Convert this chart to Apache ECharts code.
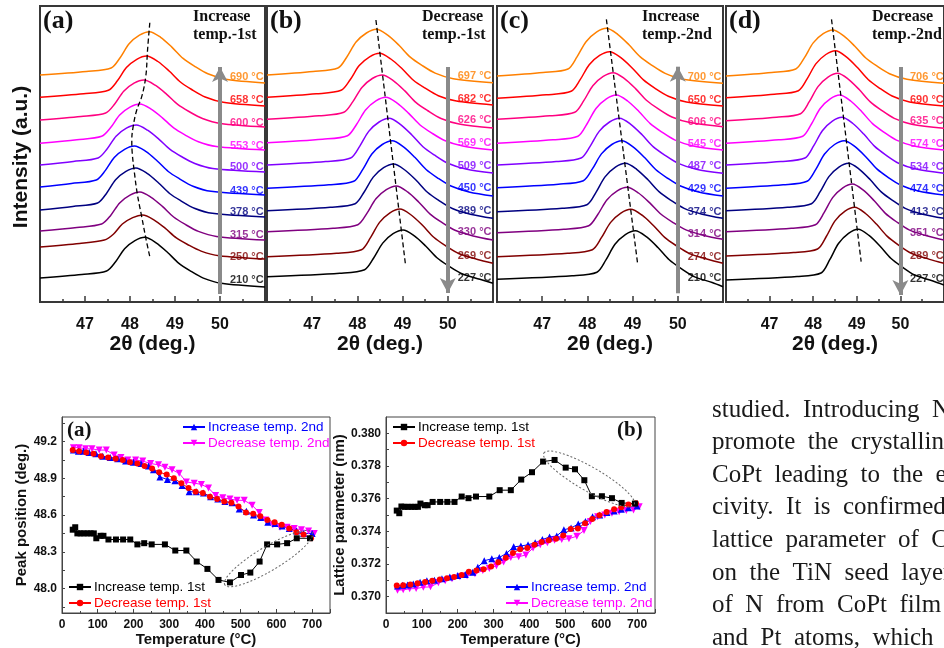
<!DOCTYPE html>
<html>
<head>
<meta charset="utf-8">
<script src="https://cdn.jsdelivr.net/npm/echarts@6/dist/echarts.min.js"></script>
<style>
  html, body { margin: 0; padding: 0; background: #ffffff; }
  #chart { width: 944px; height: 648px; }
</style>
</head>
<body>
<div id="chart"></div>
<script>
// ---------------- In-situ XRD scans: CoPt(111) peak, 2θ (deg.) vs intensity (a.u., offset) ----------------
const scanColors = ['#ff8000', '#ff0000', '#ff0080', '#ff00ff', '#8000ff', '#0000ff', '#000080', '#800080', '#800000', '#000000'];

const tempsA = ['690', '658', '600', '553', '500', '439', '378', '315', '250', '210'];
const tempsB = ['697', '682', '626', '569', '509', '450', '389', '330', '269', '227'];
const tempsC = ['700', '650', '606', '545', '487', '429', '374', '314', '274', '210'];
const tempsD = ['706', '690', '635', '574', '534', '474', '413', '351', '289', '227'];

// vertical level of each temperature tag (same a.u. scale as the scans)
const tagLevelsA = [224.7, 202, 179.3, 156, 134.7, 111.3, 90, 67, 44.7, 22];
const tagLevelsB = [226, 203.3, 182, 158.7, 136.3, 113.7, 91.3, 69.7, 46, 23.7];
const tagLevelsC = [224.7, 202, 180.3, 158, 136, 112.7, 90.3, 68, 45.3, 23.7];
const tagLevelsD = [224.7, 202, 181.3, 158, 135.3, 112.7, 90.3, 68.7, 46, 22.7];

const scansA = [
  [[46,227],[47.03,230.5],[47.58,234],[47.78,244.3],[47.98,258.2],[48.21,266.8],[48.43,270.3],[48.68,264.7],[48.93,254.9],[49.18,243.6],[49.43,235.9],[49.73,228.2],[50.13,222.8],[51,219]],
  [[46,204.7],[46.97,208.2],[47.52,211.7],[47.72,221.2],[47.92,234.4],[48.15,242.7],[48.37,246],[48.62,240.5],[48.87,231],[49.12,220],[49.37,212.5],[49.67,205],[50.07,199.8],[51,196]],
  [[46,182],[46.91,185.5],[47.46,189],[47.66,198],[47.86,210.8],[48.09,218.8],[48.31,222],[48.56,216.8],[48.81,207.9],[49.06,197.6],[49.31,190.5],[49.61,183.5],[50.01,178.5],[51,175]],
  [[46,158.7],[46.82,162.2],[47.37,165.7],[47.57,174.4],[47.77,187],[48.00,194.9],[48.22,198],[48.47,192.9],[48.72,184.2],[48.97,174.1],[49.22,167.2],[49.52,160.3],[49.92,155.5],[51,152]],
  [[46,137],[46.74,140.5],[47.29,144],[47.49,153],[47.69,165.8],[47.92,173.8],[48.14,177],[48.39,171.8],[48.64,162.9],[48.89,152.6],[49.14,145.5],[49.44,138.5],[49.84,133.5],[51,130]],
  [[46,115],[46.70,118.5],[47.25,122],[47.45,131.4],[47.65,144.5],[47.88,152.7],[48.10,156],[48.35,150.6],[48.60,141.3],[48.85,130.5],[49.10,123.2],[49.40,115.8],[49.80,110.7],[51,107]],
  [[46,92],[46.73,95.5],[47.28,99],[47.48,108.8],[47.68,122.2],[47.91,130.6],[48.13,134],[48.38,128.6],[48.63,119.3],[48.88,108.5],[49.13,101.2],[49.43,93.8],[49.83,88.7],[51,85]],
  [[46,71],[46.82,74.5],[47.37,78],[47.57,86.6],[47.77,99.1],[48.00,106.9],[48.22,110],[48.47,104.7],[48.72,95.6],[48.97,85],[49.22,77.8],[49.52,70.6],[49.92,65.6],[51,62]],
  [[46,55],[46.88,58.5],[47.43,62],[47.63,67.8],[47.83,78],[48.06,84.4],[48.28,87],[48.53,82.2],[48.78,73.8],[49.03,64.1],[49.28,57.5],[49.58,50.9],[49.98,46.3],[51,43]],
  [[46,24],[46.93,27.5],[47.48,31],[47.68,40.3],[47.88,53.3],[48.11,61.4],[48.33,64.7],[48.58,59.2],[48.83,49.8],[49.08,38.9],[49.33,31.4],[49.63,23.9],[50.03,18.7],[51,15]]
];

const scansB = [
  [[46,227],[47.02,230.5],[47.57,234],[47.77,245.3],[47.97,259.9],[48.20,269],[48.42,272.7],[48.67,266.8],[48.92,256.7],[49.17,244.9],[49.42,236.9],[49.72,228.9],[50.12,223.3],[51,219.3]],
  [[46,204.7],[47.09,208.2],[47.64,211.7],[47.84,222.3],[48.04,236.4],[48.27,245.2],[48.49,248.7],[48.74,243],[48.99,233.2],[49.24,221.8],[49.49,214.1],[49.79,206.3],[50.19,200.9],[51,197]],
  [[46,182.7],[47.15,186.2],[47.70,189.7],[47.90,200.4],[48.10,214.6],[48.33,223.5],[48.55,227],[48.80,221.2],[49.05,211.1],[49.30,199.4],[49.55,191.5],[49.85,183.5],[50.25,178],[51,174]],
  [[46,159.3],[47.23,162.8],[47.78,166.3],[47.98,177.5],[48.18,192],[48.41,201.1],[48.63,204.7],[48.88,198.9],[49.13,188.9],[49.38,177.3],[49.63,169.4],[49.93,161.5],[50.33,156],[51,152]],
  [[46,137],[47.30,140.5],[47.85,144],[48.05,155.7],[48.25,170.6],[48.48,180],[48.70,183.7],[48.95,177.7],[49.20,167.3],[49.45,155.3],[49.70,147.1],[50.00,138.8],[50.40,133.1],[51,129]],
  [[46,113.7],[47.37,117.2],[47.92,120.7],[48.12,132.7],[48.32,148],[48.55,157.5],[48.77,161.3],[49.02,155.2],[49.27,144.7],[49.52,132.5],[49.77,124.2],[50.07,116],[50.47,110.1],[51,106]],
  [[46,91.3],[47.40,94.8],[47.95,98.3],[48.15,110],[48.35,124.9],[48.58,134.3],[48.80,138],[49.05,132],[49.30,121.7],[49.55,109.8],[49.80,101.6],[50.10,93.5],[50.50,87.8],[51,83.7]],
  [[46,70.3],[47.46,73.8],[48.01,77.3],[48.21,88.6],[48.41,103.2],[48.64,112.3],[48.86,116],[49.11,110.1],[49.36,99.8],[49.61,87.9],[49.86,79.8],[50.16,71.7],[50.56,66.1],[51,62]],
  [[46,45.3],[47.54,48.8],[48.09,52.3],[48.29,64.4],[48.49,79.6],[48.72,89.2],[48.94,93],[49.19,87],[49.44,76.7],[49.69,64.8],[49.94,56.6],[50.24,48.5],[50.64,42.8],[51,38.7]],
  [[46,25.3],[47.61,28.8],[48.16,32.3],[48.36,44],[48.56,58.9],[48.79,68.3],[49.01,72],[49.26,66.1],[49.51,56],[49.76,44.3],[50.01,36.3],[50.31,28.3],[50.71,22.7],[51,18.7]]
];

const scansC = [
  [[46,226],[47.02,229.5],[47.57,233],[47.77,245.1],[47.97,260.3],[48.20,269.9],[48.42,273.7],[48.67,267.7],[48.92,257.2],[49.17,245.1],[49.42,236.9],[49.72,228.6],[50.12,222.8],[51,218.7]],
  [[46,203.7],[47.09,207.2],[47.64,210.7],[47.84,222.3],[48.04,237.3],[48.27,246.6],[48.49,250.3],[48.74,244.3],[48.99,234],[49.24,222.1],[49.49,213.9],[49.79,205.8],[50.19,200.1],[51,196]],
  [[46,182.7],[47.17,186.2],[47.72,189.7],[47.92,201.3],[48.12,216.3],[48.35,225.6],[48.57,229.3],[48.82,223.4],[49.07,213.1],[49.32,201.2],[49.57,193.1],[49.87,185],[50.27,179.4],[51,175.3]],
  [[46,158.7],[47.24,162.2],[47.79,165.7],[47.99,178],[48.19,193.5],[48.42,203.1],[48.64,207],[48.89,201],[49.14,190.5],[49.39,178.4],[49.64,170.2],[49.94,161.9],[50.34,156.1],[51,152]],
  [[46,137],[47.31,140.5],[47.86,144],[48.06,155.7],[48.26,170.6],[48.49,180],[48.71,183.7],[48.96,177.7],[49.21,167.2],[49.46,155.1],[49.71,146.9],[50.01,138.6],[50.41,132.8],[51,128.7]],
  [[46,114.3],[47.36,117.8],[47.91,121.3],[48.11,133.1],[48.31,148.1],[48.54,157.5],[48.76,161.3],[49.01,155.2],[49.26,144.7],[49.51,132.5],[49.76,124.2],[50.06,116],[50.46,110.1],[51,106]],
  [[46,90.3],[47.44,93.8],[47.99,97.3],[48.19,109.7],[48.39,125.1],[48.62,134.8],[48.84,138.7],[49.09,132.7],[49.34,122.2],[49.59,110.1],[49.84,101.9],[50.14,93.6],[50.54,87.8],[51,83.7]],
  [[46,69.3],[47.48,72.8],[48.03,76.3],[48.23,87.5],[48.43,102],[48.66,111.1],[48.88,114.7],[49.13,109],[49.38,99.1],[49.63,87.7],[49.88,79.9],[50.18,72.1],[50.58,66.6],[51,62.7]],
  [[46,45.3],[47.56,48.8],[48.11,52.3],[48.31,64.3],[48.51,79.4],[48.74,88.9],[48.96,92.7],[49.21,86.8],[49.46,76.5],[49.71,64.6],[49.96,56.5],[50.26,48.4],[50.66,42.8],[51,38.7]],
  [[46,22.7],[47.66,26.2],[48.21,29.7],[48.41,42.1],[48.61,57.7],[48.84,67.4],[49.06,71.3],[49.31,65.1],[49.56,54.5],[49.81,42.2],[50.06,33.8],[50.36,25.4],[50.76,19.5],[51,15.3]]
];

const scansD = [
  [[46,226],[47.05,229.5],[47.60,233],[47.80,244.4],[48.00,259.1],[48.23,268.3],[48.45,272],[48.70,266.1],[48.95,256],[49.20,244.3],[49.45,236.3],[49.75,228.3],[50.15,222.7],[51,218.7]],
  [[46,204.3],[47.11,207.8],[47.66,211.3],[47.86,223.1],[48.06,238.1],[48.29,247.5],[48.51,251.3],[48.76,245.2],[49.01,234.7],[49.26,222.5],[49.51,214.2],[49.81,206],[50.21,200.1],[51,196]],
  [[46,181.3],[47.16,184.8],[47.71,188.3],[47.91,200.3],[48.11,215.4],[48.34,224.9],[48.56,228.7],[48.81,222.7],[49.06,212.2],[49.31,200.1],[49.56,191.9],[49.86,183.6],[50.26,177.8],[51,173.7]],
  [[46,158.7],[47.21,162.2],[47.76,165.7],[47.96,178],[48.16,193.5],[48.39,203.1],[48.61,207],[48.86,201],[49.11,190.5],[49.36,178.4],[49.61,170.2],[49.91,161.9],[50.31,156.1],[51,152]],
  [[46,137],[47.26,140.5],[47.81,144],[48.01,156.1],[48.21,171.3],[48.44,180.9],[48.66,184.7],[48.91,178.5],[49.16,167.9],[49.41,155.6],[49.66,147.2],[49.96,138.8],[50.36,132.9],[51,128.7]],
  [[46,113.7],[47.31,117.2],[47.86,120.7],[48.06,132.7],[48.26,148],[48.49,157.5],[48.71,161.3],[48.96,155.3],[49.21,145],[49.46,133.1],[49.71,124.9],[50.01,116.8],[50.41,111.1],[51,107]],
  [[46,91.3],[47.41,94.8],[47.96,98.3],[48.16,110.3],[48.36,125.4],[48.59,134.9],[48.81,138.7],[49.06,132.7],[49.31,122.2],[49.56,110.1],[49.81,101.9],[50.11,93.6],[50.51,87.8],[51,83.7]],
  [[46,70.3],[47.50,73.8],[48.05,77.3],[48.25,89.4],[48.45,104.6],[48.68,114.2],[48.90,118],[49.15,111.8],[49.40,101.2],[49.65,88.9],[49.90,80.5],[50.20,72.1],[50.60,66.2],[51,62]],
  [[46,46],[47.55,49.5],[48.10,53],[48.30,65.5],[48.50,81.1],[48.73,90.8],[48.95,94.7],[49.20,88.5],[49.45,77.9],[49.70,65.6],[49.95,57.2],[50.25,48.8],[50.65,42.9],[51,38.7]],
  [[46,22],[47.63,25.5],[48.18,29],[48.38,42.3],[48.58,58.5],[48.81,68.6],[49.03,72.7],[49.28,66.6],[49.53,56],[49.78,43.7],[50.03,35.4],[50.33,27],[50.73,21.2],[51,17]]
];

// dashed guides through the peak maxima
const peakGuideA = [[48.44,279.3],[48.39,252],[48.35,225.3],[48.26,205.3],[48.15,192],[48.07,175.3],[48.04,162],[48.05,148.7],[48.10,128.7],[48.16,108.7],[48.26,85.3],[48.36,62],[48.44,45.3]];
const peakGuideB = [[48.41,282],[49.06,38.7]];
const peakGuideC = [[48.42,282.7],[49.11,38.7]];
const peakGuideD = [[48.42,282.7],[49.10,40.3]];

// temperature-sequence arrows at 2θ = 50 (start level, end level)
const sweepArrows = [[8, 235], [235, 9], [8.7, 235.3], [235, 7]];

const xrdTicks = [47, 48, 49, 50];
const panelTags = ['(a)', '(b)', '(c)', '(d)'];
const runNotes = ['Increase\ntemp.-1st', 'Decrease\ntemp.-1st', 'Increase\ntemp.-2nd', 'Decrease\ntemp.-2nd'];

// ---------------- Peak position / lattice parameter vs temperature ----------------
const tempInc1 = [30, 37, 43, 52, 61, 71, 80, 89, 96, 108, 116, 130, 151, 171, 191, 211, 230, 251, 288, 317, 348, 377, 407, 438, 470, 501, 527, 553, 574, 602, 630, 657, 694];
const peakInc1 = [48.48, 48.50, 48.45, 48.45, 48.45, 48.45, 48.45, 48.45, 48.41, 48.43, 48.43, 48.40, 48.40, 48.40, 48.40, 48.36, 48.37, 48.36, 48.36, 48.31, 48.31, 48.22, 48.16, 48.07, 48.05, 48.11, 48.13, 48.22, 48.36, 48.36, 48.37, 48.41, 48.41];
const latInc1 = [0.37527, 0.37511, 0.37552, 0.3755, 0.3755, 0.3755, 0.3755, 0.3755, 0.3757, 0.3756, 0.3756, 0.3758, 0.3758, 0.3758, 0.3758, 0.37613, 0.37603, 0.37613, 0.37613, 0.37652, 0.37652, 0.37717, 0.37762, 0.37827, 0.37837, 0.3779, 0.3778, 0.37713, 0.37615, 0.37615, 0.37603, 0.37574, 0.3757];

const tempDec1 = [697, 676, 656, 636, 615, 595, 575, 555, 535, 515, 494, 474, 454, 434, 414, 394, 374, 354, 334, 313, 293, 272, 252, 231, 211, 190, 170, 150, 129, 109, 88, 68, 48, 30];
const peakDec1 = [48.41, 48.44, 48.46, 48.49, 48.52, 48.54, 48.56, 48.59, 48.61, 48.62, 48.67, 48.70, 48.71, 48.73, 48.75, 48.78, 48.79, 48.82, 48.86, 48.90, 48.93, 48.95, 48.98, 49.00, 49.02, 49.03, 49.05, 49.06, 49.07, 49.08, 49.10, 49.11, 49.12, 49.13];
const latDec1 = [0.37572, 0.37565, 0.37548, 0.37535, 0.37518, 0.37498, 0.37475, 0.37450, 0.37418, 0.37415, 0.37375, 0.37355, 0.37345, 0.37335, 0.37318, 0.37298, 0.37290, 0.37268, 0.37238, 0.37210, 0.37185, 0.37168, 0.37160, 0.37152, 0.37132, 0.37120, 0.37112, 0.37105, 0.37098, 0.37090, 0.37082, 0.37075, 0.37070, 0.37068];

const tempInc2 = [32, 46, 60, 76, 95, 114, 135, 156, 178, 200, 221, 242, 256, 274, 295, 316, 336, 356, 376, 396, 416, 436, 456, 476, 496, 516, 536, 556, 576, 596, 616, 636, 656, 676, 700];
const peakInc2 = [49.13, 49.12, 49.12, 49.11, 49.10, 49.08, 49.07, 49.06, 49.04, 49.03, 49.02, 49.00, 48.97, 48.91, 48.89, 48.88, 48.84, 48.79, 48.79, 48.78, 48.75, 48.73, 48.71, 48.70, 48.65, 48.63, 48.60, 48.58, 48.54, 48.53, 48.51, 48.49, 48.47, 48.45, 48.45];
const latInc2 = [0.37065, 0.37070, 0.37072, 0.37078, 0.37088, 0.37098, 0.37100, 0.37110, 0.37120, 0.37130, 0.37135, 0.37150, 0.37180, 0.37220, 0.37232, 0.37240, 0.37265, 0.37305, 0.37310, 0.37318, 0.37330, 0.37350, 0.37365, 0.37372, 0.37410, 0.37420, 0.37445, 0.37460, 0.37490, 0.37500, 0.37515, 0.37525, 0.37535, 0.37545, 0.37555];

const tempDec2 = [706, 690, 670, 650, 630, 610, 590, 570, 552, 532, 510, 490, 470, 450, 430, 410, 390, 370, 348, 328, 308, 288, 270, 248, 226, 206, 184, 165, 146, 124, 104, 84, 66, 48, 32];
const peakDec2 = [48.45, 48.47, 48.48, 48.49, 48.50, 48.50, 48.52, 48.56, 48.62, 48.68, 48.72, 48.72, 48.73, 48.74, 48.76, 48.82, 48.85, 48.86, 48.87, 48.94, 48.97, 48.99, 49.01, 49.02, 49.04, 49.05, 49.05, 49.07, 49.09, 49.13, 49.13, 49.14, 49.14, 49.15, 49.15];
const latDec2 = [0.37550, 0.37530, 0.37527, 0.37520, 0.37510, 0.37500, 0.37490, 0.37460, 0.37405, 0.37370, 0.37355, 0.37350, 0.37345, 0.37330, 0.37318, 0.37298, 0.37255, 0.37245, 0.37240, 0.37212, 0.37190, 0.37172, 0.37160, 0.37140, 0.37128, 0.37122, 0.37110, 0.37098, 0.37085, 0.37060, 0.37058, 0.37050, 0.37048, 0.37042, 0.37040];

const tempTickLabels = [0, 100, 200, 300, 400, 500, 600, 700];
const peakTickLabels = [48.0, 48.3, 48.6, 48.9, 49.2];
const peakTicks = [47.85, 48.0, 48.15, 48.3, 48.45, 48.6, 48.75, 48.9, 49.05, 49.2, 49.35];
const latTickLabels = [0.370, 0.372, 0.374, 0.376, 0.378, 0.380];
const latTicks = [0.370, 0.371, 0.372, 0.373, 0.374, 0.375, 0.376, 0.377, 0.378, 0.379, 0.380];

// the heating/cooling loop that is circled in each plot: [temperature, value]
const loopMarkPeak = [578, 48.244];
const loopMarkLat = [566, 0.37721];

// justified body text of the page column (words, one array per line)
const bodyLines = [
  ['studied.', 'Introducing', 'N'],
  ['promote', 'the', 'crystallinity'],
  ['CoPt', 'leading', 'to', 'the', 'enhanced'],
  ['civity.', 'It', 'is', 'confirmed'],
  ['lattice', 'parameter', 'of', 'CoPt'],
  ['on', 'the', 'TiN', 'seed', 'layer'],
  ['of', 'N', 'from', 'CoPt', 'film'],
  ['and', 'Pt', 'atoms,', 'which']
];

// ---------------- chart ----------------
const SANS = '"Liberation Sans", Arial, sans-serif';
const SERIF = '"Liberation Serif", "Times New Roman", serif';
const INK = '#111111';
const FRAME = '#383838';

const chart = echarts.init(document.getElementById('chart'), null, { renderer: 'canvas' });

const topBoxes = [
  { left: 40, top: 6, width: 225, height: 296 },
  { left: 267, top: 6, width: 226, height: 296 },
  { left: 497, top: 6, width: 226, height: 296 },
  { left: 726, top: 6, width: 226, height: 296 }
];
const lowBoxes = [
  { left: 62, top: 417, width: 268, height: 196 },
  { left: 386, top: 417, width: 269, height: 196 }
];

const grids = topBoxes.concat(lowBoxes).map((b, i) => Object.assign({
  show: true, borderColor: i < 4 ? FRAME : '#444', borderWidth: i < 4 ? 2 : 1, backgroundColor: 'transparent'
}, b));

const xAxes = [];
const yAxes = [];
for (let i = 0; i < 4; i++) {
  xAxes.push({
    gridIndex: i, type: 'value', min: 46, max: 51, interval: 1,
    axisLine: { show: true, lineStyle: { color: FRAME, width: 2 } },
    axisTick: { show: true, inside: true, length: 6, lineStyle: { color: FRAME, width: 1.5 } },
    minorTick: { show: true, splitNumber: 2, length: 3, lineStyle: { color: FRAME, width: 1.5 } },
    splitLine: { show: false }, minorSplitLine: { show: false },
    axisLabel: { customValues: xrdTicks, fontSize: 16, fontWeight: 'bold', fontFamily: SANS, color: INK, margin: 15 },
    name: '2\u03b8 (deg.)', nameLocation: 'middle', nameGap: 28,
    nameTextStyle: { fontSize: 21, fontWeight: 'bold', fontFamily: SANS, color: INK }
  });
  yAxes.push({
    gridIndex: i, type: 'value', min: 0, max: 296,
    axisLine: { show: true, lineStyle: { color: FRAME, width: 2 } },
    axisTick: { show: false }, axisLabel: { show: false }, splitLine: { show: false },
    name: i === 0 ? 'Intensity (a.u.)' : '', nameLocation: 'middle', nameGap: 8, nameRotate: 90,
    nameTextStyle: { fontSize: 21, fontWeight: 'bold', fontFamily: SANS, color: INK, padding: [0, 0, 0, -6] }
  });
}
const lowX = (g) => ({
  gridIndex: g, type: 'value', min: 0, max: 750, interval: 100,
  axisLine: { show: true, lineStyle: { color: '#444', width: 1 } },
  axisTick: { show: true, inside: true, length: 4, lineStyle: { color: '#444' } },
  minorTick: { show: true, splitNumber: 2, length: 2, lineStyle: { color: '#444' } },
  splitLine: { show: false }, minorSplitLine: { show: false },
  axisLabel: { customValues: tempTickLabels, fontSize: 12, fontWeight: 'bold', fontFamily: SANS, color: INK, margin: 6 },
  name: 'Temperature (\u00b0C)', nameLocation: 'middle', nameGap: 19,
  nameTextStyle: { fontSize: 15, fontWeight: 'bold', fontFamily: SANS, color: INK }
});
xAxes.push(lowX(4), lowX(5));
yAxes.push({
  gridIndex: 4, type: 'value', min: 47.8, max: 49.4,
  axisLine: { show: true, lineStyle: { color: '#444', width: 1 } },
  axisTick: { show: true, inside: true, length: 3, customValues: peakTicks, lineStyle: { color: '#444' } },
  splitLine: { show: false },
  axisLabel: { customValues: peakTickLabels, formatter: (v) => v.toFixed(1), fontSize: 12, fontWeight: 'bold', fontFamily: SANS, color: INK, margin: 5 },
  name: 'Peak position (deg.)', nameLocation: 'middle', nameGap: 26, nameRotate: 90,
  nameTextStyle: { fontSize: 15, fontWeight: 'bold', fontFamily: SANS, color: INK }
});
yAxes.push({
  gridIndex: 5, type: 'value', min: 0.369, max: 0.381,
  axisLine: { show: true, lineStyle: { color: '#444', width: 1 } },
  axisTick: { show: true, inside: true, length: 3, customValues: latTicks, lineStyle: { color: '#444' } },
  splitLine: { show: false },
  axisLabel: { customValues: latTickLabels, formatter: (v) => v.toFixed(3), fontSize: 12, fontWeight: 'bold', fontFamily: SANS, color: INK, margin: 5 },
  name: 'Lattice parameter (nm)', nameLocation: 'middle', nameGap: 34, nameRotate: 90,
  nameTextStyle: { fontSize: 15, fontWeight: 'bold', fontFamily: SANS, color: INK }
});

const series = [];
const scanSets = [scansA, scansB, scansC, scansD];
const tempSets = [tempsA, tempsB, tempsC, tempsD];
const tagSets = [tagLevelsA, tagLevelsB, tagLevelsC, tagLevelsD];
const guideSets = [peakGuideA, peakGuideB, peakGuideC, peakGuideD];

scanSets.forEach((scans, p) => {
  scans.forEach((pts, k) => {
    series.push({
      type: 'line', xAxisIndex: p, yAxisIndex: p, data: pts,
      showSymbol: false, symbol: 'none', smooth: 0.3, silent: true,
      lineStyle: { color: scanColors[k], width: 1.5 }, z: 2
    });
  });
  series.push({
    type: 'line', xAxisIndex: p, yAxisIndex: p, data: guideSets[p],
    showSymbol: false, symbol: 'none', smooth: p === 0 ? 0.4 : false, silent: true,
    lineStyle: { color: '#000', width: 1.3, type: [5, 3] }, z: 3
  });
  series.push({
    type: 'scatter', xAxisIndex: p, yAxisIndex: p, symbolSize: 0, silent: true, z: 4,
    data: tempSets[p].map((t, k) => ({
      value: [50.22, tagSets[p][k]],
      label: { show: true, position: 'right', distance: 0, formatter: t + ' \u00b0C', color: scanColors[k],
        fontSize: 11, fontWeight: 'bold', fontFamily: SANS }
    })),
    markLine: {
      silent: true, symbol: ['none', 'arrow'], symbolSize: [12, 15], animation: false,
      label: { show: false },
      lineStyle: { color: '#8a8a8a', width: 4, type: 'solid' },
      emphasis: { disabled: true },
      data: [[{ coord: [50, sweepArrows[p][0]] }, { coord: [50, sweepArrows[p][1]] }]]
    }
  });
});

const cycles = [
  { name: 'Increase temp. 1st', color: '#000000', symbol: 'rect', size: 6, rot: 0, t: tempInc1, peak: peakInc1, lat: latInc1 },
  { name: 'Decrease temp. 1st', color: '#ff0000', symbol: 'circle', size: 6, rot: 0, t: tempDec1, peak: peakDec1, lat: latDec1 },
  { name: 'Increase temp. 2nd', color: '#0000ff', symbol: 'triangle', size: 7, rot: 0, t: tempInc2, peak: peakInc2, lat: latInc2 },
  { name: 'Decrease temp. 2nd', color: '#ff00ff', symbol: 'triangle', size: 7, rot: 180, t: tempDec2, peak: peakDec2, lat: latDec2 }
];
const drawOrder = [3, 2, 1, 0];
[4, 5].forEach((g) => {
  drawOrder.forEach((ci) => {
    const c = cycles[ci];
    series.push({
      type: 'line', name: c.name, xAxisIndex: g, yAxisIndex: g,
      data: c.t.map((t, k) => [t, g === 4 ? c.peak[k] : c.lat[k]]),
      symbol: c.symbol, symbolSize: c.size, symbolRotate: c.rot, showSymbol: true,
      lineStyle: { color: c.color, width: 1 }, itemStyle: { color: c.color }, silent: true, z: 5
    });
  });
});

const legendItem = (ci) => ({ name: cycles[ci].name, textStyle: { color: cycles[ci].color } });
const legendBase = {
  orient: 'vertical', itemWidth: 22, itemHeight: 8, itemGap: 2, padding: 0, selectedMode: false,
  textStyle: { fontSize: 13.5, fontFamily: SANS, lineHeight: 14, padding: [0, 0, 0, -2] }
};
const legends = [
  Object.assign({ left: 182, top: 420, data: [legendItem(2), legendItem(3)] }, legendBase),
  Object.assign({ left: 68, top: 580, data: [legendItem(0), legendItem(1)] }, legendBase),
  Object.assign({ left: 392, top: 420, data: [legendItem(0), legendItem(1)] }, legendBase),
  Object.assign({ left: 505, top: 580, data: [legendItem(2), legendItem(3)] }, legendBase)
];

chart.setOption({
  animation: false,
  backgroundColor: '#ffffff',
  grid: grids,
  xAxis: xAxes,
  yAxis: yAxes,
  legend: legends,
  series: series
});

// annotations: panel tags, run notes, circled loops, running text
const graphics = [];
topBoxes.forEach((b, i) => {
  graphics.push({
    type: 'text', x: b.left + 3, y: 21, z: 20,
    style: { text: panelTags[i], font: 'bold 26px ' + SERIF, fill: INK, verticalAlign: 'middle' }
  });
  const noteOffset = [153, 155, 145, 146][i];
  graphics.push({
    type: 'text', x: b.left + noteOffset, y: 8, z: 20,
    style: { text: runNotes[i], font: 'bold 16px ' + SERIF, fill: INK, lineHeight: 18, verticalAlign: 'top' }
  });
});
graphics.push({
  type: 'text', x: 67, y: 431, z: 20,
  style: { text: '(a)', font: 'bold 21px ' + SERIF, fill: INK, verticalAlign: 'middle' }
});
graphics.push({
  type: 'text', x: 617, y: 431, z: 20,
  style: { text: '(b)', font: 'bold 21px ' + SERIF, fill: INK, verticalAlign: 'middle' }
});
const cA = chart.convertToPixel({ gridIndex: 4 }, loopMarkPeak);
const cB = chart.convertToPixel({ gridIndex: 5 }, loopMarkLat);
graphics.push({
  type: 'ellipse', x: cA[0], y: cA[1], rotation: 0.54, z: 20, silent: true,
  shape: { cx: 0, cy: 0, rx: 51, ry: 12 },
  style: { fill: 'none', stroke: '#666', lineWidth: 1, lineDash: [2, 2] }
});
graphics.push({
  type: 'ellipse', x: cB[0], y: cB[1], rotation: -0.52, z: 20, silent: true,
  shape: { cx: 0, cy: 0, rx: 52, ry: 12 },
  style: { fill: 'none', stroke: '#666', lineWidth: 1, lineDash: [2, 2] }
});

// body text set word by word with widened (justified) spacing
const BODY_FONT = '25px ' + SERIF;
const measureCtx = document.createElement('canvas').getContext('2d');
measureCtx.font = BODY_FONT;
const wordGap = 12.5;
bodyLines.forEach((words, k) => {
  let x = 712;
  words.forEach((w) => {
    graphics.push({
      type: 'text', x: x, y: 410 + k * 32.6, z: 20,
      style: { text: w, font: BODY_FONT, fill: '#1a1a1a', verticalAlign: 'middle' }
    });
    x += measureCtx.measureText(w).width + wordGap;
  });
});
chart.setOption({ graphic: graphics });
</script>
</body>
</html>
